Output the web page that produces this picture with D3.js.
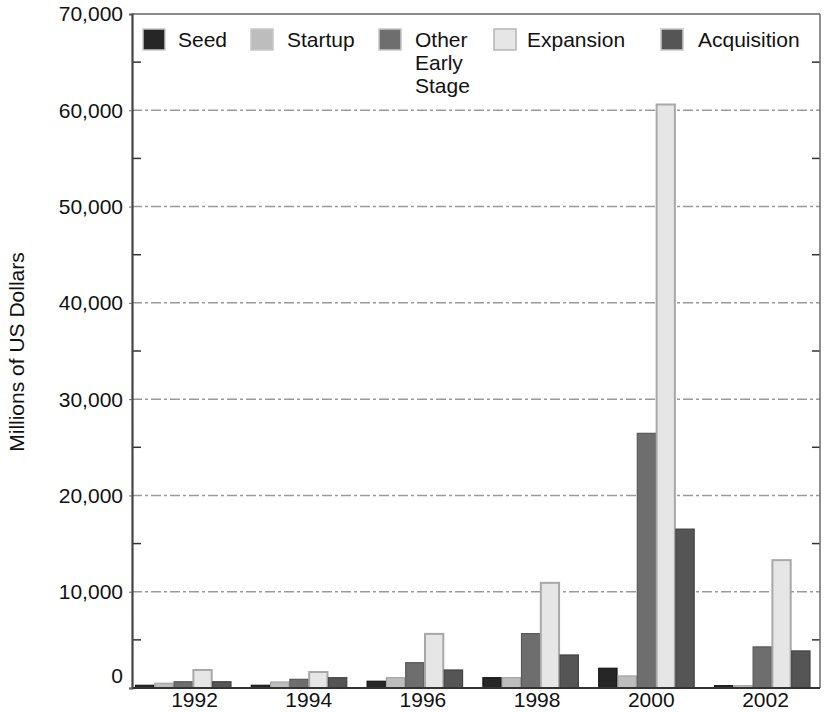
<!DOCTYPE html>
<html>
<head>
<meta charset="utf-8">
<script src="https://cdn.jsdelivr.net/npm/d3@7"></script>
<style>
  html, body { margin: 0; padding: 0; background: #fff; }
  svg { display: block; font-family: "Liberation Sans", Arial, Helvetica, sans-serif; }
</style>
</head>
<body>
<svg id="chart" width="824" height="712"></svg>
<script>
// ---- data ----
const years = [1992, 1994, 1996, 1998, 2000, 2002];
const seriesNames = ["Seed", "Startup", "Other Early Stage", "Expansion", "Acquisition"];
const seed        = [280, 280, 700, 1070, 2050, 240];
const startup     = [490, 620, 1070, 1070, 1250, 240];
const otherEarly  = [650, 900, 2630, 5650, 26450, 4270];
const expansion   = [1870, 1660, 5620, 10920, 60600, 13280];
const acquisition = [650, 1070, 1870, 3430, 16500, 3850];
const yTicks = [0, 10000, 20000, 30000, 40000, 50000, 60000, 70000];
const yLabel = "Millions of US Dollars";

const seriesValues = [seed, startup, otherEarly, expansion, acquisition];
const fills   = ["#262626", "#bdbdbd", "#6e6e6e", "#e6e6e6", "#555555"];
const strokes = ["#151515", "#a3a3a3", "#5a5a5a", "#a8a8a8", "#444444"];

// ---- layout ----
const svg = d3.select("#chart");
const pL = 132, pR = 820, pT = 14, pB = 688;
const FS = 21;

const y = d3.scaleLinear().domain([0, 70000]).range([pB, pT]);
const x0 = d3.scaleBand().domain(years).range([pL, 813.5]).paddingInner(0.167).paddingOuter(0.026);
const x1 = d3.scaleBand().domain(d3.range(seriesNames.length)).range([0, x0.bandwidth()]);
const xLab = d3.scaleLinear().domain([1992, 2002]).range([194, 765]);

// gridlines
svg.append("g").selectAll("line")
  .data(yTicks.filter(d => d > 0 && d < 70000))
  .join("line")
  .attr("x1", pL).attr("x2", pR)
  .attr("y1", d => y(d)).attr("y2", d => y(d))
  .attr("stroke", "#9a9a9a").attr("stroke-width", 1.5)
  .attr("stroke-dasharray", "10,3,3,3");

// minor ticks
const minor = d3.range(5000, 70000, 10000);
svg.append("g").selectAll("line").data(minor).join("line")
  .attr("x1", pL).attr("x2", pL + 9)
  .attr("y1", d => y(d)).attr("y2", d => y(d))
  .attr("stroke", "#333").attr("stroke-width", 1.5);
svg.append("g").selectAll("line").data(minor).join("line")
  .attr("x1", pR - 8).attr("x2", pR)
  .attr("y1", d => y(d)).attr("y2", d => y(d))
  .attr("stroke", "#333").attr("stroke-width", 1.5);

// bars
const rows = years.map((yr, i) => ({ year: yr, vals: seriesValues.map(s => s[i]) }));
const groups = svg.append("g").selectAll("g").data(rows).join("g")
  .attr("transform", d => `translate(${x0(d.year)},0)`);
groups.selectAll("rect").data(d => d.vals.map((v, k) => ({ v, k }))).join("rect")
  .attr("x", d => x1(d.k) + 0.5)
  .attr("width", x1.bandwidth() - 1)
  .attr("y", d => y(d.v))
  .attr("height", d => pB - y(d.v))
  .attr("fill", d => fills[d.k])
  .attr("stroke", d => strokes[d.k])
  .attr("stroke-width", d => d.k === 3 ? 2 : 1.2);

// frame
svg.append("line").attr("x1", pL).attr("x2", pR).attr("y1", pT).attr("y2", pT)
  .attr("stroke", "#8a8a8a").attr("stroke-width", 2);
svg.append("line").attr("x1", pR).attr("x2", pR).attr("y1", pT).attr("y2", pB)
  .attr("stroke", "#6a6a6a").attr("stroke-width", 1.5);
svg.append("line").attr("x1", pL).attr("x2", pR).attr("y1", pB).attr("y2", pB)
  .attr("stroke", "#333").attr("stroke-width", 2);

// y axis
const yAxis = d3.axisLeft(y).tickValues(yTicks).tickFormat(d3.format(",")).tickSize(3).tickPadding(6);
const ya = svg.append("g").attr("transform", `translate(${pL},0)`).call(yAxis);
ya.select(".domain").attr("stroke", "#444").attr("stroke-width", 2.2);
ya.selectAll(".tick line").attr("stroke", "#666");
ya.selectAll(".tick text").attr("font-size", FS).attr("fill", "#111")
  .attr("dy", d => d === 0 ? "-0.25em" : "0.33em");
ya.attr("font-family", null);

// x labels
const xAxis = d3.axisBottom(xLab).tickValues(years).tickFormat(d3.format("d")).tickSize(0).tickPadding(4);
const xa = svg.append("g").attr("transform", `translate(0,${pB})`).call(xAxis);
xa.select(".domain").remove();
xa.selectAll(".tick text").attr("font-size", FS).attr("fill", "#111");
xa.attr("font-family", null);

// y label
svg.append("text")
  .attr("transform", `translate(24,352) rotate(-90)`)
  .attr("text-anchor", "middle")
  .attr("font-size", FS).attr("fill", "#111")
  .text(yLabel);

// legend
const legBox = [143, 251, 379, 494, 661];
const legText = [178, 287, 415, 527, 698];
const lg = svg.append("g");
seriesNames.forEach((name, k) => {
  lg.append("rect").attr("x", legBox[k]).attr("y", 29).attr("width", 22).attr("height", 21)
    .attr("fill", fills[k]).attr("stroke", k === 3 ? "#b5b5b5" : "#c8c8c8").attr("stroke-width", 1.5);
  const words = k === 2 ? ["Other", "Early", "Stage"] : [name];
  const t = lg.append("text").attr("x", legText[k]).attr("y", 47).attr("font-size", FS).attr("fill", "#111");
  words.forEach((w, i) => t.append("tspan").attr("x", legText[k]).attr("dy", i === 0 ? 0 : 23).text(w));
});
</script>
</body>
</html>
